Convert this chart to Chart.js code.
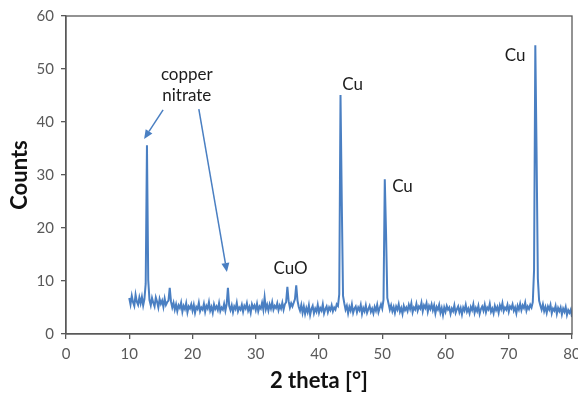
<!DOCTYPE html>
<html>
<head>
<meta charset="utf-8">
<script src="https://cdn.jsdelivr.net/npm/chart.js@4.4.1/dist/chart.umd.min.js"></script>
<style>
  html, body { margin: 0; padding: 0; background: #ffffff; }
  #wrap { width: 578px; height: 394px; }
</style>
</head>
<body>
<div id="wrap"><canvas id="xrd" width="578" height="394"></canvas></div>
<script>
// XRD scan: 2θ from 10° to 80° in 0.2° steps
const scanStart = 10;
const scanStep = 0.2;

// Measured counts, one row per 2° of the scan
const counts = [
  6.8, 5.6, 7.2, 6.0, 5.3, 7.4, 6.1, 5.5, 6.9, 5.8,   // 10.0 – 11.8
  7.0, 5.4, 6.6, 9.5, 35.6, 10.2, 6.4, 5.4, 6.8, 5.9, // 12.0 – 13.8
  5.2, 6.9, 6.1, 5.0, 6.6, 5.7, 6.3, 5.1, 6.7, 5.5,   // 14.0 – 15.8
  6.0, 6.3, 8.7, 6.1, 5.0, 5.9, 4.6, 5.6, 4.3, 5.4,   // 16.0 – 17.8
  4.9, 5.9, 4.2, 5.3, 4.7, 5.8, 4.1, 5.2, 4.8, 5.6,   // 18.0 – 19.8
  4.4, 5.5, 4.0, 5.1, 4.7, 5.9, 4.3, 5.0, 4.6, 5.7,   // 20.0 – 21.8
  4.2, 5.3, 4.8, 6.0, 4.4, 5.1, 4.0, 5.6, 4.7, 5.2,   // 22.0 – 23.8
  4.5, 5.8, 4.3, 5.0, 4.6, 5.7, 4.4, 5.6, 8.7, 5.3,   // 24.0 – 25.8
  4.5, 5.4, 4.1, 5.2, 4.7, 5.9, 4.3, 5.0, 4.6, 5.5,   // 26.0 – 27.8
  4.2, 5.3, 4.8, 5.8, 4.4, 5.1, 4.0, 5.6, 4.9, 5.4,   // 28.0 – 29.8
  4.5, 5.7, 4.3, 5.2, 4.8, 5.9, 4.6, 6.9, 4.7, 5.5,   // 30.0 – 31.8
  4.4, 5.6, 4.8, 6.0, 4.6, 5.3, 4.9, 5.8, 4.5, 5.4,   // 32.0 – 33.8
  4.8, 5.9, 4.6, 5.6, 6.0, 8.9, 6.2, 5.0, 5.8, 5.2,   // 34.0 – 35.8
  5.9, 6.6, 9.2, 6.3, 5.1, 4.4, 5.5, 4.0, 5.2, 3.8,   // 36.0 – 37.8
  4.9, 4.1, 5.4, 3.6, 4.7, 5.3, 3.9, 4.8, 4.2, 5.5,   // 38.0 – 39.8
  4.0, 4.9, 4.4, 5.6, 3.9, 4.7, 5.2, 4.1, 5.0, 4.5,   // 40.0 – 41.8
  5.4, 4.3, 5.0, 4.6, 5.6, 5.3, 7.5, 45.1, 25.0, 7.2, // 42.0 – 43.8
  5.8, 4.6, 5.3, 3.9, 5.1, 4.4, 5.6, 4.0, 4.8, 5.2,   // 44.0 – 45.8
  4.1, 5.0, 4.5, 5.5, 3.8, 4.9, 4.3, 5.4, 4.0, 4.7,   // 46.0 – 47.8
  5.3, 4.2, 4.8, 3.9, 5.1, 4.4, 5.5, 4.1, 4.9, 5.6,   // 48.0 – 49.8
  4.8, 6.5, 29.2, 19.0, 6.8, 5.7, 4.6, 5.4, 4.3, 5.1, // 50.0 – 51.8
  4.0, 5.2, 4.6, 5.6, 4.2, 4.9, 3.8, 5.3, 4.5, 5.0,   // 52.0 – 53.8
  4.3, 5.5, 4.7, 5.8, 4.1, 5.0, 4.6, 5.7, 4.4, 5.2,   // 54.0 – 55.8
  4.8, 5.9, 4.3, 5.4, 4.9, 5.8, 4.2, 5.3, 4.7, 5.6,   // 56.0 – 57.8
  4.5, 5.4, 3.9, 5.1, 4.6, 5.5, 4.0, 4.9, 3.6, 5.0,   // 58.0 – 59.8
  4.2, 5.3, 4.6, 5.0, 3.8, 4.8, 4.3, 5.4, 4.0, 4.7,   // 60.0 – 61.8
  5.2, 4.1, 4.9, 3.7, 5.0, 4.4, 5.5, 4.2, 4.8, 3.9,   // 62.0 – 63.8
  5.1, 4.5, 5.6, 4.0, 4.9, 4.3, 5.3, 3.8, 4.7, 5.2,   // 64.0 – 65.8
  4.4, 5.5, 4.1, 5.0, 4.6, 5.7, 4.2, 4.8, 3.9, 5.3,   // 66.0 – 67.8
  4.5, 5.1, 4.0, 5.4, 4.7, 5.8, 4.3, 5.0, 4.6, 5.5,   // 68.0 – 69.8
  4.2, 5.2, 4.8, 5.6, 4.4, 5.0, 3.9, 5.3, 4.6, 5.7,   // 70.0 – 71.8
  4.5, 5.4, 4.9, 5.9, 4.4, 5.2, 4.7, 5.5, 5.0, 6.0,   // 72.0 – 73.8
  12.0, 54.5, 34.0, 10.5, 6.3, 5.4, 4.6, 5.6, 4.3, 5.1, // 74.0 – 75.8
  4.0, 5.2, 4.6, 5.5, 3.9, 4.8, 4.4, 5.3, 3.8, 4.9,   // 76.0 – 77.8
  4.3, 5.0, 3.7, 4.8, 4.2, 5.1, 3.6, 4.5, 4.0, 4.6,   // 78.0 – 79.8
  3.2                                                 // 80.0
];

// Axis ranges and ticks
const xTicks = [0, 10, 20, 30, 40, 50, 60, 70, 80];
const yTicks = [0, 10, 20, 30, 40, 50, 60];

// Phase labels (placed in 2θ / counts units)
const phaseLabels = [
  { lines: ['copper', 'nitrate'], x: 19.1, y: 47.0 },
  { lines: ['CuO'], x: 35.5, y: 12.3 },
  { lines: ['Cu'], x: 45.3, y: 47.0 },
  { lines: ['Cu'], x: 53.2, y: 27.8 },
  { lines: ['Cu'], x: 71.0, y: 52.45 }
];

// Pointer arrows from the "copper nitrate" label to its reflections
const pointerArrows = [
  { fromX: 15.35, fromY: 42.3, toX: 12.35, toY: 36.8 },
  { fromX: 21.0, fromY: 42.45, toX: 25.44, toY: 11.7 }
];

const lineColor = '#4a7fc2';
const axisColor = '#595959';

const points = counts.map((c, i) => ({ x: +(scanStart + i * scanStep).toFixed(1), y: c }));

const frameAndNotes = {
  id: 'frameAndNotes',
  afterDatasetsDraw(chart) {
    const { ctx, chartArea: a, scales: { x, y } } = chart;
    ctx.save();
    // plot frame
    ctx.strokeStyle = axisColor;
    ctx.lineWidth = 1.3;
    ctx.strokeRect(a.left, a.top, a.right - a.left, a.bottom - a.top);

    // labels
    ctx.fillStyle = '#1c1c1c';
    ctx.font = '17px Lato';
    ctx.textAlign = 'center';
    ctx.textBaseline = 'middle';
    phaseLabels.forEach(l => {
      const px = x.getPixelForValue(l.x);
      const py = y.getPixelForValue(l.y);
      const lh = 21;
      const y0 = py - (l.lines.length - 1) * lh / 2;
      l.lines.forEach((t, k) => ctx.fillText(t, px, y0 + k * lh));
    });

    // arrows
    ctx.strokeStyle = lineColor;
    ctx.fillStyle = lineColor;
    ctx.lineWidth = 1.5;
    pointerArrows.forEach(ar => {
      const x1 = x.getPixelForValue(ar.fromX), y1 = y.getPixelForValue(ar.fromY);
      const x2 = x.getPixelForValue(ar.toX), y2 = y.getPixelForValue(ar.toY);
      const ang = Math.atan2(y2 - y1, x2 - x1);
      const head = 9, half = 4;
      const bx = x2 - head * Math.cos(ang), by = y2 - head * Math.sin(ang);
      ctx.beginPath();
      ctx.moveTo(x1, y1);
      ctx.lineTo(bx, by);
      ctx.stroke();
      ctx.beginPath();
      ctx.moveTo(x2, y2);
      ctx.lineTo(bx + half * Math.sin(ang), by - half * Math.cos(ang));
      ctx.lineTo(bx - half * Math.sin(ang), by + half * Math.cos(ang));
      ctx.closePath();
      ctx.fill();
    });
    ctx.restore();
  }
};

new Chart(document.getElementById('xrd'), {
  type: 'line',
  data: {
    datasets: [{
      data: points,
      borderColor: lineColor,
      borderWidth: 2,
      pointRadius: 0,
      tension: 0,
      fill: false
    }]
  },
  options: {
    responsive: false,
    animation: false,
    layout: { padding: { left: 0, right: 6, top: 16, bottom: 0 } },
    plugins: { legend: { display: false }, tooltip: { enabled: false } },
    scales: {
      x: {
        type: 'linear',
        min: xTicks[0],
        max: xTicks[xTicks.length - 1],
        afterBuildTicks: s => { s.ticks = xTicks.map(v => ({ value: v })); },
        afterFit: s => { s.height = 60; s.paddingLeft = 0; s.paddingRight = 0; },
        grid: { display: true, drawOnChartArea: false, drawTicks: true, tickLength: 5, color: axisColor, lineWidth: 1.3 },
        border: { display: true, color: axisColor, width: 1.3 },
        ticks: { color: '#595959', font: { family: 'Lato', size: 15 }, padding: 6, maxRotation: 0 },
        title: {
          display: true, text: '2 theta [°]', color: '#111111',
          font: { family: 'Lato', size: 22, weight: 'bold' },
          padding: { top: 0, bottom: 0 }
        }
      },
      y: {
        type: 'linear',
        min: yTicks[0],
        max: yTicks[yTicks.length - 1],
        afterBuildTicks: s => { s.ticks = yTicks.map(v => ({ value: v })); },
        afterFit: s => { s.width = 66; s.paddingTop = 0; s.paddingBottom = 0; },
        grid: { display: true, drawOnChartArea: false, drawTicks: true, tickLength: 5, color: axisColor, lineWidth: 1.3 },
        border: { display: true, color: axisColor, width: 1.3 },
        ticks: { color: '#595959', font: { family: 'Lato', size: 15 }, padding: 7 },
        title: {
          display: true, text: 'Counts', color: '#111111',
          font: { family: 'Lato', size: 22, weight: 'bold' },
          padding: { top: 7, bottom: 0 }
        }
      }
    }
  },
  plugins: [frameAndNotes]
});
</script>
</body>
</html>
